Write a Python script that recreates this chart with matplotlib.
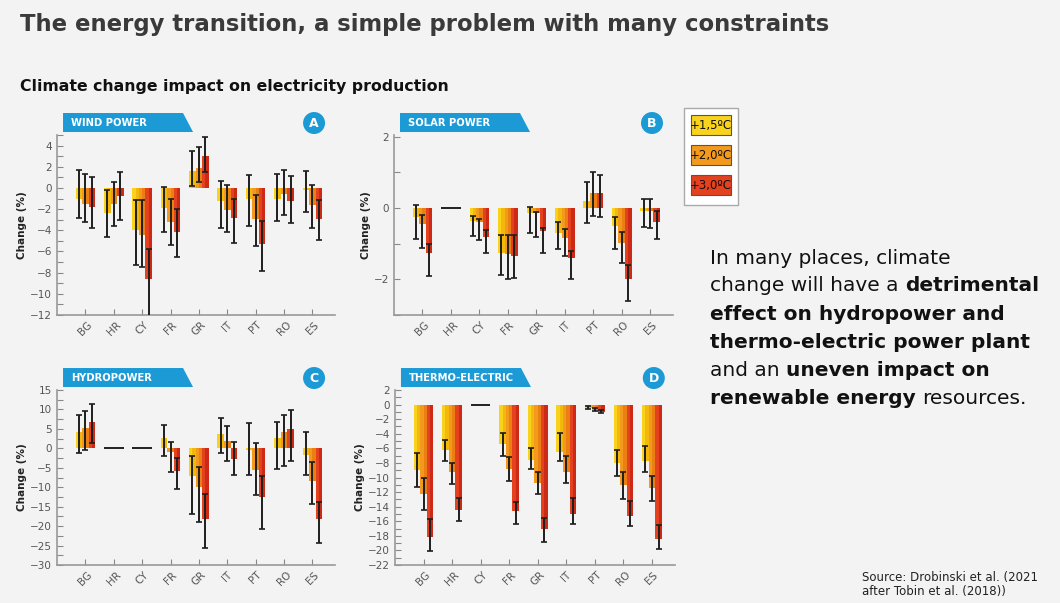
import numpy as np
import matplotlib.pyplot as plt
from matplotlib.patches import Polygon, Ellipse, Rectangle

countries = ['BG', 'HR', 'CY', 'FR', 'GR', 'IT', 'PT', 'RO', 'ES']
scenarios = ['+1,5ºC', '+2,0ºC', '+3,0ºC']

# wind power: bar value, error low, error high (per scenario)
wind_val = [[-1.0, -2.4, -4.0, -1.9, 1.6, -1.2, -1.0, -1.0, -0.2],
            [-1.5, -1.5, -4.4, -3.2, 1.9, -2.1, -2.9, -0.6, -1.6],
            [-1.8, -0.8, -8.6, -4.2, 3.0, -2.8, -5.3, -1.2, -2.9]]
wind_lo = [[-2.8, -4.6, -7.3, -4.2, 0.2, -3.8, -3.6, -3.1, -2.3],
           [-3.2, -3.6, -7.5, -5.4, 0.6, -4.2, -5.5, -2.6, -3.8],
           [-3.8, -3.0, -13.0, -6.5, 1.5, -5.2, -7.8, -3.3, -4.9]]
wind_hi = [[1.7, -0.2, -1.1, 0.1, 3.5, 0.7, 1.2, 1.3, 1.6],
           [1.3, 0.6, -1.1, -1.0, 3.9, 0.3, -0.7, 1.7, 0.3],
           [1.0, 1.5, -5.8, -2.0, 4.8, -1.0, -3.1, 1.1, -1.1]]

# solar power
solar_val = [[-0.25, 0.0, -0.35, -1.25, -0.15, -0.7, 0.2, -0.5, -0.08],
             [-0.45, 0.0, -0.4, -1.3, -0.15, -0.85, 0.42, -0.98, -0.08],
             [-1.25, 0.0, -0.8, -1.35, -0.65, -1.4, 0.42, -2.0, -0.4]]
solar_lo = [[-0.87, 0.0, -0.78, -1.88, -0.7, -1.15, -0.43, -1.15, -0.52],
            [-1.13, 0.0, -0.9, -2.0, -0.82, -1.35, -0.22, -1.55, -0.57],
            [-1.9, 0.0, -1.27, -1.97, -1.27, -2.0, -0.25, -2.62, -0.87]]
solar_hi = [[0.08, 0.0, -0.22, -0.75, 0.03, -0.4, 0.72, -0.25, 0.25],
            [-0.2, 0.0, -0.3, -0.75, -0.12, -0.6, 1.02, -0.68, 0.25],
            [-1.02, 0.0, -0.62, -0.75, -0.57, -1.2, 0.93, -1.6, -0.08]]

# hydropower
hydro_val = [[4.3, 0.0, 0.0, 2.6, -7.1, 3.6, -0.5, 2.7, -1.6],
             [5.3, 0.0, 0.0, -1.0, -9.9, 1.8, -5.5, 4.2, -8.5],
             [6.8, 0.0, 0.0, -5.8, -18.2, -2.7, -12.4, 5.0, -18.2]]
hydro_lo = [[-1.2, 0.0, 0.0, -1.9, -16.8, -1.2, -6.9, -5.2, -6.8],
            [-0.3, 0.0, 0.0, -6.2, -19.0, -3.3, -11.9, -4.6, -14.2],
            [1.5, 0.0, 0.0, -10.4, -25.7, -6.9, -20.7, -3.2, -24.3]]
hydro_hi = [[8.5, 0.0, 0.0, 6.1, -2.0, 7.9, 6.4, 6.7, 4.2],
            [9.6, 0.0, 0.0, 1.7, -4.7, 5.8, 1.3, 8.6, -3.4],
            [11.4, 0.0, 0.0, -2.5, -11.8, 1.6, -7.1, 9.8, -13.8]]

# thermo-electric
thermo_val = [[-9.0, -6.2, 0.0, -5.4, -7.6, -6.5, -0.4, -8.0, -7.8],
              [-12.2, -9.2, 0.0, -8.9, -10.8, -9.2, -0.7, -11.0, -11.5],
              [-18.2, -14.5, 0.0, -14.6, -17.1, -15.0, -1.0, -15.3, -18.5]]
thermo_lo = [[-11.3, -7.7, 0.0, -7.1, -8.9, -7.7, -0.6, -9.8, -9.2],
             [-14.4, -10.9, 0.0, -10.5, -12.2, -10.7, -0.9, -12.9, -13.2],
             [-20.1, -15.9, 0.0, -16.4, -18.8, -16.4, -1.1, -16.7, -19.8]]
thermo_hi = [[-6.6, -4.8, 0.0, -3.9, -5.9, -3.9, -0.2, -6.2, -5.7],
             [-10.1, -8.0, 0.0, -7.2, -9.2, -7.0, -0.4, -9.2, -9.8],
             [-15.7, -12.8, 0.0, -13.4, -15.5, -12.8, -0.7, -13.2, -16.5]]

colors = ['#f8d21c', '#f39a1e', '#e4411f']
shades = ['#f4b80a', '#ec7f12', '#cc2a16']
blue = '#1b9ad6'

fig = plt.figure(figsize=(10.6, 6.03), dpi=100)
fig.patch.set_facecolor('#f3f3f3')


def panel(rect, val, lo, hi, ylim, major, minor, name, letter):
    ax = fig.add_axes(rect)
    ax.patch.set_alpha(0)
    x = np.arange(len(countries))
    w = 0.23
    for i in range(3):
        v = np.array(val[i])
        l = np.array(lo[i])
        h = np.array(hi[i])
        pos = x + (i - 1) * w
        edge = ['#111111' if vv == 0 else 'none' for vv in v]
        ax.bar(pos, v, w, color=colors[i], edgecolor=edge, linewidth=1.3, zorder=2)
        ax.bar(pos + w / 4, v, w / 2, color=shades[i], zorder=2)
        nz = (h - l) > 0
        ax.errorbar(pos[nz], ((l + h) / 2)[nz], yerr=((h - l) / 2)[nz], fmt='none',
                    ecolor='#1e1e1e', elinewidth=1.4, capsize=2.5, capthick=1.2, zorder=3)
    ax.set_xlim(-1, 8.8)
    ax.set_ylim(*ylim)
    ax.set_xticks(x)
    ax.set_xticklabels(countries, rotation=45, fontsize=7.5, color='#555555')
    if major:
        ax.set_yticks(np.arange(ylim[0], ylim[1] + 0.01, major))
    ax.set_yticks(np.arange(ylim[0], ylim[1] + 0.01, minor), minor=True)
    ax.tick_params(axis='both', which='both', colors='#888888', labelcolor='#555555',
                   labelsize=7.5, length=4, width=0.8, direction='in')
    ax.set_ylabel('Change (%)', fontsize=7.5, fontweight='bold', color='#222222', labelpad=2)
    for s in ['top', 'right']:
        ax.spines[s].set_visible(False)
    for s in ['left', 'bottom']:
        ax.spines[s].set_color('#999999')
        ax.spines[s].set_linewidth(1.2)
    # header tab and letter badge (figure pixels)
    x0 = rect[0] * 1060 + 6
    ytop = (1 - rect[1] - rect[3]) * 603 - 22
    tab = [(x0, 603 - ytop - 19), (x0, 603 - ytop), (x0 + 120, 603 - ytop), (x0 + 130, 603 - ytop - 19)]
    fig.patches.append(Polygon([(px / 1060, py / 603) for px, py in tab], closed=True,
                               transform=fig.transFigure, facecolor=blue, edgecolor='none'))
    fig.text((x0 + 8) / 1060, (603 - ytop - 10) / 603, name, color='white', fontsize=7.2,
             fontweight='bold', va='center', ha='left')
    cx = (rect[0] + rect[2]) * 1060 - 21
    cy = 603 - ytop - 10
    fig.patches.append(Ellipse((cx / 1060, cy / 603), 22 / 1060, 22 / 603,
                               transform=fig.transFigure, facecolor=blue, edgecolor='none'))
    fig.text(cx / 1060, cy / 603, letter, color='white', fontsize=9, fontweight='bold',
             ha='center', va='center')
    return ax


panel([0.0538, 0.4776, 0.2623, 0.2985], wind_val, wind_lo, wind_hi, (-12, 5), 2, 1,
      'WIND POWER', 'A')
axb = panel([0.3717, 0.4776, 0.2632, 0.2985], solar_val, solar_lo, solar_hi, (-3, 2.05), None, 1,
            'SOLAR POWER', 'B')
axb.set_yticks([-2, 0, 2])
axb.set_yticks([-3, -1, 1], minor=True)
panel([0.0538, 0.063, 0.2623, 0.2902], hydro_val, hydro_lo, hydro_hi, (-30, 15), 5, 2.5,
      'HYDROPOWER', 'C')
panel([0.3726, 0.063, 0.264, 0.2902], thermo_val, thermo_lo, thermo_hi, (-22, 2), 2, 1,
      'THERMO-ELECTRIC', 'D')

# titles
fig.text(20 / 1060, 1 - 24 / 603, 'The energy transition, a simple problem with many constraints',
         fontsize=16.4, fontweight='bold', color='#3a3a3a', va='center')
fig.text(20 / 1060, 1 - 87 / 603, 'Climate change impact on electricity production',
         fontsize=11.3, fontweight='bold', color='#111111', va='center')

# legend box
fig.patches.append(Rectangle((684 / 1060, 1 - 205 / 603), 54 / 1060, 97 / 603,
                             transform=fig.transFigure, facecolor='white', edgecolor='#aaaaaa',
                             linewidth=1))
for i, lab in enumerate(scenarios):
    ytop = 115 + i * 30
    fig.patches.append(Rectangle((691 / 1060, 1 - (ytop + 20) / 603), 40 / 1060, 20 / 603,
                                 transform=fig.transFigure, facecolor=colors[i],
                                 edgecolor='#555555', linewidth=0.8))
    fig.text(711 / 1060, 1 - (ytop + 10) / 603, lab, fontsize=8.5, ha='center', va='center',
             color='#111111')

# right-hand text with mixed weights
renderer = fig.canvas.get_renderer()
lines = [[('In many places, climate', False)],
         [('change will have a ', False), ('detrimental', True)],
         [('effect on hydropower and', True)],
         [('thermo-electric power plant', True)],
         [('and an ', False), ('uneven impact on', True)],
         [('renewable energy', True), (' resources.', False)]]
fs = 14.5


def text_width(s, bold):
    t = fig.text(0, 0, s, fontsize=fs, fontweight='bold' if bold else 'normal')
    bb = t.get_window_extent(renderer)
    t.remove()
    return bb.width


for k, parts in enumerate(lines):
    xp = 710.0
    yp = 603 - (258 + k * 28)
    for s, bold in parts:
        lead = len(s) - len(s.lstrip(' '))
        trail = len(s) - len(s.rstrip(' '))
        sp = text_width('x x', bold) - text_width('xx', bold)
        xp += lead * sp
        core = s.strip(' ')
        fig.text(xp / 1060, yp / 603, core, fontsize=fs, fontweight='bold' if bold else 'normal',
                 color='#111111', va='center')
        xp += text_width(core, bold) + trail * sp

fig.text(862 / 1060, 1 - 577 / 603, 'Source: Drobinski et al. (2021', fontsize=8.5,
         color='#222222', va='center')
fig.text(862 / 1060, 1 - 592 / 603, 'after Tobin et al. (2018))', fontsize=8.5,
         color='#222222', va='center')

fig.savefig('out.png', dpi=100, facecolor=fig.get_facecolor())
